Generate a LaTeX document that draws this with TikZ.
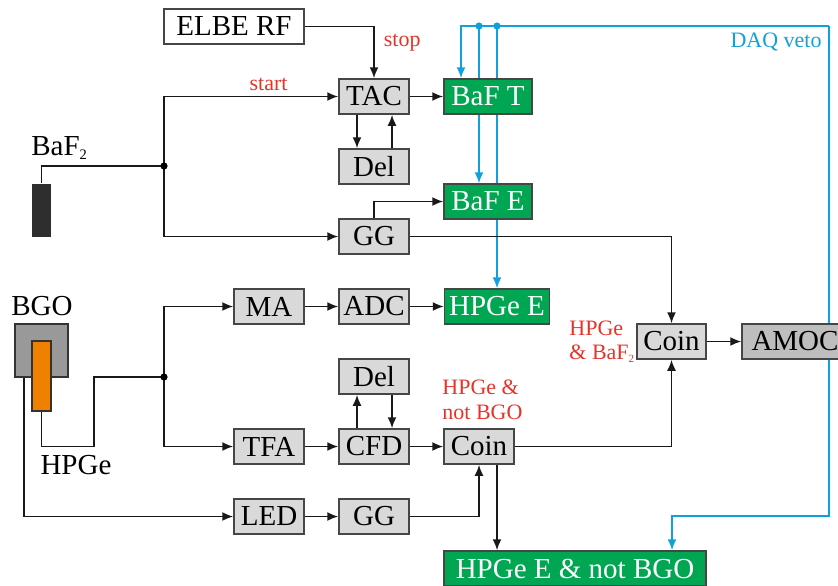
\documentclass[tikz,border=0pt]{standalone}
\usepackage{fontspec}
\setmainfont{Liberation Serif}
\usepackage{xcolor}
\usepackage{tikz}
\usetikzlibrary{positioning,arrows.meta,calc,backgrounds}
\definecolor{boxgrey}{RGB}{217,217,217}
\definecolor{amocgrey}{RGB}{190,190,190}
\definecolor{edgegrey}{RGB}{70,70,70}
\definecolor{daqgreen}{RGB}{0,166,81}
\definecolor{vetoblue}{RGB}{16,160,220}
\definecolor{labred}{RGB}{232,50,40}
\definecolor{bgogrey}{RGB}{153,153,153}
\definecolor{georange}{RGB}{240,128,0}
\definecolor{bafdark}{RGB}{46,46,46}
\newcommand{\boxfont}{\fontsize{14.5}{16}\selectfont}
\newcommand{\labfont}{\fontsize{11}{12}\selectfont}
\newcommand{\smallsub}[1]{\raisebox{-0.35ex}{\scalebox{0.5}{#1}}}
\tikzset{
  mod/.style  ={draw=edgegrey, fill=boxgrey, line width=0.75pt, font=\boxfont,
                inner sep=0pt, minimum width=35pt, minimum height=17.5pt},
  outb/.style ={mod, fill=daqgreen, text=white},
  ar/.style   ={-{Latex[length=5.5pt,width=4.5pt]}, draw=black!90, line width=0.85pt},
  ln/.style   ={draw=black!90, line width=0.85pt},
  veto/.style ={-{Latex[length=5.5pt,width=4.5pt]}, draw=vetoblue, line width=0.85pt},
  lab/.style  ={font=\labfont, text=labred, align=left, inner sep=0pt},
  det/.style  ={draw=black!80, line width=0.6pt, inner sep=0pt},
  detlab/.style={font=\boxfont, inner sep=0pt},
}

\begin{document}
\begin{tikzpicture}[x=0.5pt,y=-0.5pt]
\useasboundingbox (0,0) rectangle (838,585);
% detectors
\node[det,draw=none,fill=bafdark,minimum width=9.5pt,minimum height=26.5pt] (baf) at (41.5,210.5) {};
\node[det,fill=bgogrey,minimum width=26.5pt,minimum height=26.5pt] (bgo) at (41.5,350.5) {};
\node[det,fill=georange,minimum width=9.5pt,minimum height=35pt] (hpge) at (41.5,376) {};
\node[detlab,anchor=west] (baflab) at (31,148) {BaF\smallsub{2}};
\node[detlab] (bgolab) at (42,306) {BGO};
\node[detlab] (hpgelab) at (76,465) {HPGe};

% modules
\node[mod,fill=white,minimum width=70pt] (elbe) at (234,26.5) {ELBE RF};
\foreach \n/\x/\y/\t in {tac/374/96.5/TAC, deltop/374/166.5/Del, ggtop/374/236.5/GG,
    ma/269/306.5/MA, adc/374/306.5/ADC, delbot/374/376.5/Del, tfa/269/446.5/TFA,
    cfd/374/446.5/CFD, led/269/516.5/LED, ggbot/374/516.5/GG, coinlo/479/446.5/Coin}
  \node[mod] (\n) at (\x,\y) {\t};
\node[mod,minimum width=34.5pt] (coinhi) at (671.5,341.5) {Coin};
\node[mod,fill=amocgrey,minimum width=53pt] (amoc) at (795,341.5) {AMOC};
\node[outb,minimum width=44pt] (baft) at (488,96.5) {BaF T};
\node[outb,minimum width=44pt] (bafe) at (488,201.5) {BaF E};
\node[outb,minimum width=52.5pt] (hpgee) at (497,306.5) {HPGe E};
\node[outb,minimum width=131pt] (hpgeenb) at (575,568.5) {HPGe E \& not BGO};

% signal lines
\coordinate (jbaf) at (164,166);
\coordinate (jhpge) at (164,377);
\draw[ln] (baf.north) |- (jbaf);
\draw[ar] (jbaf) |- (tac) node[lab,pos=0.8,above=2.5pt] (startlab) {start};
\draw[ar] (jbaf) |- (ggtop);
\fill (jbaf) circle (1.8pt);
\draw[ar] (elbe) -| (tac) node[lab,pos=0.66,right=4.5pt] (stoplab) {stop};
\draw[ar] ($(tac.south)+(-17,0)$) -- ($(deltop.north)+(-17,0)$);
\draw[ar] ($(deltop.north)+(18,0)$) -- ($(tac.south)+(18,0)$);
\draw[ar] (ggtop.north) |- (bafe);
\draw[ar] (ggtop) -| (coinhi);
\draw[ln] (hpge.south) |- ++(52.5,35) |- (jhpge);
\draw[ar] (jhpge) |- (ma);
\draw[ar] (jhpge) |- (tfa);
\fill (jhpge) circle (1.8pt);
\draw[ar] ($(bgo.south)+(-17.5,0)$) |- (led);
\draw[ar] ($(cfd.north)+(-17,0)$) -- ($(delbot.south)+(-17,0)$);
\draw[ar] ($(delbot.south)+(18,0)$) -- ($(cfd.north)+(18,0)$);
\foreach \a/\b in {tac/baft, ma/adc, adc/hpgee, tfa/cfd, cfd/coinlo, led/ggbot, coinhi/amoc}
  \draw[ar] (\a) -- (\b);
\draw[ar] (ggbot) -| (coinlo);
\draw[ar] (coinlo) -| (coinhi);
\draw[ar] ($(coinlo.south)+(18,0)$) -- ($(hpgeenb.north)+(-78,0)$);
\node[lab,anchor=north west,font=\fontsize{11}{12.5}\selectfont] (notbgo) at (442,379) {HPGe \&\\not BGO};
\node[lab,anchor=north west,font=\fontsize{11}{11.65}\selectfont] (andbaf) at (569,321) {HPGe\\\& BaF\smallsub{2}};

% veto lines
\coordinate (vtop) at (829,26);
\coordinate (vbot) at (829,516);
\coordinate (dota) at (479,26);
\coordinate (dotb) at (497,26);
\begin{scope}[on background layer]
\draw[veto] (vtop) -| ($(baft.north)+(-27,0)$);
\draw[veto] (dota) -- (dota|-bafe.north);
\draw[veto] (dotb) -- (dotb|-hpgee.north);
\draw[veto] (vtop) -- (vbot) -| ($(hpgeenb.north)+(97,0)$);
\fill[vetoblue] (dota) circle (1.8pt) (dotb) circle (1.8pt);
\end{scope}
\node[lab,text=vetoblue,anchor=east] (daqlab) at (822,42) {DAQ veto};
\end{tikzpicture}
\end{document}
